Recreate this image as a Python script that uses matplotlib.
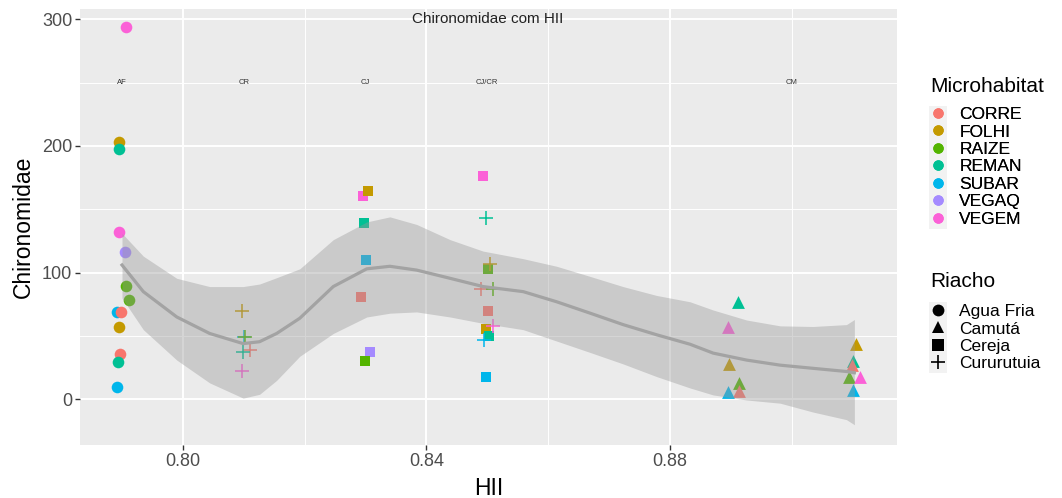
import matplotlib
matplotlib.use("Agg")
import matplotlib.pyplot as plt
from matplotlib.lines import Line2D
from matplotlib.patches import Rectangle

plt.rcParams['font.family'] = ['Liberation Sans', 'DejaVu Sans']

# points (HII already shows the small horizontal jitter)
hii = [0.7906, 0.7895, 0.7895, 0.7895, 0.7905, 0.7906, 0.7911, 0.7892, 0.7898, 0.7895, 0.7897, 0.7894, 0.7892,
       0.8097, 0.8101, 0.8102, 0.8111, 0.8099, 0.8097,
       0.8296, 0.8304, 0.8297, 0.8301, 0.8292, 0.8307, 0.8299,
       0.8493, 0.8502, 0.8502, 0.8498, 0.8503, 0.8498,
       0.8498, 0.8505, 0.8490, 0.8510, 0.8510, 0.8495,
       0.8912, 0.8896, 0.8897, 0.8913, 0.8913, 0.8896,
       0.9105, 0.9100, 0.9099, 0.9094, 0.9112, 0.9100]
chiro = [294, 203, 197.5, 132, 116.5, 89.7, 78.6, 68.7, 68.7, 56.8, 35.5, 29.7, 9.5,
         69.7, 49.4, 49.4, 38.7, 37.3, 22.3,
         160.3, 164.4, 139.2, 110, 81, 37.1, 30,
         176.5, 102.9, 70, 55.3, 50, 17.9,
         142.9, 106.8, 86.8, 86.8, 57.9, 46.8,
         77, 56.8, 27.6, 13.1, 6.5, 6,
         43.7, 30.2, 27, 17.9, 17.9, 7.3]
micro = ['VEGEM', 'FOLHI', 'REMAN', 'VEGEM', 'VEGAQ', 'RAIZE', 'RAIZE', 'SUBAR', 'CORRE', 'FOLHI', 'CORRE', 'REMAN', 'SUBAR',
         'FOLHI', 'SUBAR', 'RAIZE', 'CORRE', 'REMAN', 'VEGEM',
         'VEGEM', 'FOLHI', 'REMAN', 'SUBAR', 'CORRE', 'VEGAQ', 'RAIZE',
         'VEGEM', 'RAIZE', 'CORRE', 'FOLHI', 'REMAN', 'SUBAR',
         'REMAN', 'FOLHI', 'CORRE', 'RAIZE', 'VEGEM', 'SUBAR',
         'REMAN', 'VEGEM', 'FOLHI', 'RAIZE', 'CORRE', 'SUBAR',
         'FOLHI', 'REMAN', 'CORRE', 'RAIZE', 'VEGEM', 'SUBAR']
riacho = ['Agua Fria'] * 13 + ['Cururutuia'] * 6 + ['Cereja'] * 13 + ['Cururutuia'] * 6 + ['Camutá'] * 12

# smoother line and band
smooth_x = [0.790, 0.7935, 0.799, 0.8044, 0.8099, 0.8126, 0.8154, 0.8192, 0.8247, 0.8302, 0.834, 0.8384, 0.8439,
            0.8493, 0.8559, 0.8614, 0.8669, 0.8723, 0.8778, 0.8833, 0.8871, 0.8926, 0.8981, 0.9035, 0.909, 0.9103]
smooth_y = [106, 85, 65, 52, 44, 45.5, 52, 64, 89, 103, 105, 102, 95.5,
            89, 85, 77, 68, 59, 51, 43.5, 36.5, 31, 27, 24.5, 22, 21]
smooth_hi = [131, 113, 95.5, 89, 89, 91, 96, 103, 126, 140, 144, 138, 126,
             117, 111, 105, 97, 89, 82, 77, 70.5, 62.6, 58, 57.5, 59, 63]
smooth_lo = [80, 55, 31, 13, 1, 4, 15, 34, 52, 65, 68, 69, 65,
             60, 55, 46, 37, 28, 18, 9, 3.5, -0.5, -3, -10, -16, -20]

site_x = [0.79, 0.81, 0.83, 0.85, 0.90]
site_lab = ['AF', 'CR', 'CJ', 'CJ/CR', 'CM']

micro_levels = ['CORRE', 'FOLHI', 'RAIZE', 'REMAN', 'SUBAR', 'VEGAQ', 'VEGEM']
micro_cols = ['#F8766D', '#C49A00', '#53B400', '#00C094', '#00B6EB', '#A58AFF', '#FB61D7']
riacho_levels = ['Agua Fria', 'Camutá', 'Cereja', 'Cururutuia']
riacho_marks = ['o', '^', 's', '+']
riacho_size = [70, 85, 62, 90]

col_of = dict(zip(micro_levels, micro_cols))
mark_of = dict(zip(riacho_levels, riacho_marks))
size_of = dict(zip(riacho_levels, riacho_size))

fig = plt.figure(figsize=(10.62, 4.98), dpi=100)
ax = fig.add_axes([80 / 1062, 1 - 445 / 498, 817 / 1062, 436 / 498])
ax.set_facecolor('#EBEBEB')

for x, y, m, r in zip(hii, chiro, micro, riacho):
    mk = mark_of[r]
    if mk == '+':
        ax.scatter(x, y, marker=mk, s=size_of[r], color=col_of[m], linewidths=1.1, zorder=3)
    else:
        ax.scatter(x, y, marker=mk, s=size_of[r], color=col_of[m], linewidths=0, zorder=3)

ax.fill_between(smooth_x, smooth_lo, smooth_hi, color='#999999', alpha=0.4, linewidth=0, zorder=4)
ax.plot(smooth_x, smooth_y, color='#a3a3a3', linewidth=2.3, zorder=5)

for x, lab in zip(site_x, site_lab):
    ax.text(x, 250, lab, fontsize=5.5, ha='center', va='center', color='#333333', zorder=6)
ax.text(0.85, 300, 'Chironomidae com HII', fontsize=11, ha='center', va='center', color='#222222', zorder=6)

ax.set_xlim(0.7831, 0.9173)
ax.set_ylim(-36, 308)
ax.set_xticks([0.80, 0.84, 0.88])
ax.set_xticklabels(['0.80', '0.84', '0.88'])
ax.set_xticks([0.82, 0.86, 0.90], minor=True)
ax.set_yticks([0, 100, 200, 300])
ax.set_yticks([50, 150, 250], minor=True)
ax.grid(which='major', color='white', linewidth=1.4, zorder=0)
ax.grid(which='minor', color='white', linewidth=0.7, zorder=0)
ax.set_axisbelow(True)
for s in ax.spines.values():
    s.set_visible(False)
ax.tick_params(which='major', length=3.5, width=1, color='#333333', labelsize=13, labelcolor='#4D4D4D', pad=2)
ax.tick_params(which='minor', length=0)
ax.set_xlabel('HII', fontsize=16.5, color='black', labelpad=5)
ax.set_ylabel('Chironomidae', fontsize=16.5, color='black', labelpad=5)

# legend titles drawn apart so the gap to the keys matches ggplot
fig.text(930 / 1062, 1 - 86 / 498, 'Microhabitat', fontsize=15, va='center', ha='left')
fig.text(930 / 1062, 1 - 281 / 498, 'Riacho', fontsize=15, va='center', ha='left')

# key backgrounds like ggplot legend keys
fig.patches.append(Rectangle((929 / 1062, 1 - 229 / 498), 18 / 1062, 123 / 498,
                             transform=fig.transFigure, facecolor='#F2F2F2', edgecolor='none', zorder=0))
fig.patches.append(Rectangle((929 / 1062, 1 - 373 / 498), 18 / 1062, 71 / 498,
                             transform=fig.transFigure, facecolor='#F2F2F2', edgecolor='none', zorder=0))

h1 = [Line2D([], [], linestyle='', marker='o', markersize=7.5, color=c, markeredgewidth=0) for c in micro_cols]
leg1 = fig.legend(h1, micro_levels, loc='upper left', bbox_to_anchor=(929 / 1062, 1 - 107 / 498),
                  frameon=False, fontsize=12.5, labelspacing=0.13, handlelength=1.0,
                  handletextpad=0.75, borderpad=0, borderaxespad=0)
h2 = [Line2D([], [], linestyle='', marker=mk, markersize=8.5 if mk != '+' else 10, color='black',
             markeredgewidth=0 if mk != '+' else 1.2) for mk in riacho_marks]
leg2 = fig.legend(h2, riacho_levels, loc='upper left', bbox_to_anchor=(929 / 1062, 1 - 304 / 498),
                  frameon=False, fontsize=12.5, labelspacing=0.13, handlelength=1.0,
                  handletextpad=0.75, borderpad=0, borderaxespad=0)
fig.add_artist(leg1)

fig.savefig('out.png', dpi=100)
